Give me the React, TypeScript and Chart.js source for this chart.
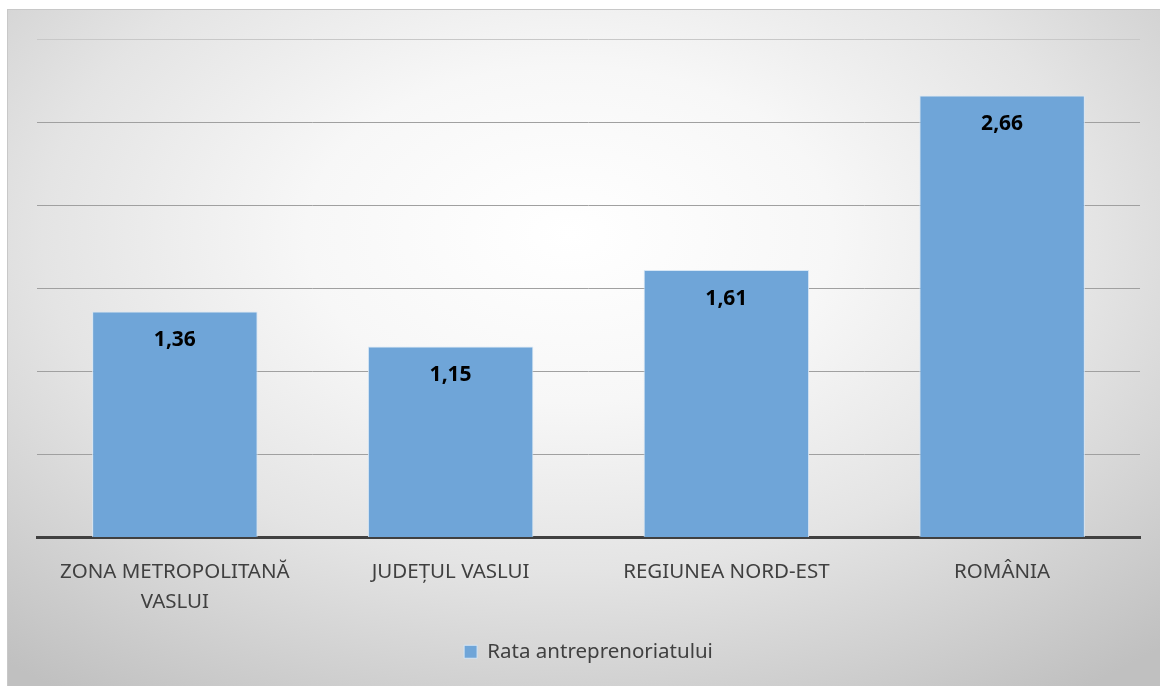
import React, { useEffect, useRef } from "react";
import { Chart, registerables } from "chart.js";

Chart.register(...registerables);

const categories: string[][] = [
  ["ZONA METROPOLITANĂ", "VASLUI"],
  ["JUDEȚUL VASLUI"],
  ["REGIUNEA NORD-EST"],
  ["ROMÂNIA"],
];
const values: number[] = [1.36, 1.15, 1.61, 2.66];
const valueLabels: string[] = ["1,36", "1,15", "1,61", "2,66"];
const seriesName = "Rata antreprenoriatului";
const yMax = 3;
const yStep = 0.5;

const FONT = "'Noto Sans', 'Open Sans', sans-serif";

const dataLabelPlugin = {
  id: "dataLabels",
  afterDatasetsDraw(chart: any) {
    const ctx = chart.ctx;
    const meta = chart.getDatasetMeta(0);
    ctx.save();
    ctx.font = `bold 21px ${FONT}`;
    ctx.fillStyle = "#000000";
    ctx.textAlign = "center";
    ctx.textBaseline = "middle";
    meta.data.forEach((bar: any, i: number) => {
      ctx.fillText(valueLabels[i], bar.x, bar.y + 29);
    });
    ctx.restore();
  },
};

export default function App() {
  const canvasRef = useRef<HTMLCanvasElement | null>(null);

  useEffect(() => {
    document.body.style.margin = "0";
    const canvas = canvasRef.current;
    if (!canvas) return;
    const chart = new Chart(canvas, {
      type: "bar",
      data: {
        labels: categories,
        datasets: [
          {
            label: seriesName,
            data: values,
            backgroundColor: "#6fa5d8",
            borderColor: "#d6e6f5",
            borderWidth: 1,
            barPercentage: 0.6,
            categoryPercentage: 1,
          },
        ],
      },
      options: {
        animation: false,
        responsive: false,
        maintainAspectRatio: false,
        layout: { padding: { left: 37, right: 20, top: 39, bottom: 14 } },
        plugins: {
          tooltip: { enabled: false },
          legend: {
            position: "bottom",
            labels: {
              color: "#404040",
              font: { family: FONT, size: 20.5 },
              boxWidth: 13,
              boxHeight: 13,
              padding: 10,
            },
          },
        },
        scales: {
          x: {
            grid: { display: false },
            border: { display: true, color: "#404040", width: 3 },
            ticks: {
              color: "#404040",
              font: { family: FONT, size: 20.5, lineHeight: 1.46 },
              padding: 12,
              maxRotation: 0,
              autoSkip: false,
            },
            afterFit(scale: any) {
              scale.height = 94;
            },
          },
          y: {
            min: 0,
            max: yMax,
            ticks: { display: false, stepSize: yStep },
            border: { display: false },
            grid: {
              color: (c: any) => (c.tick && c.tick.value === yMax ? "#c8c8c8" : "#a0a0a0"),
              lineWidth: 1,
              drawTicks: false,
            },
            afterFit(scale: any) {
              scale.width = 0;
            },
          },
        },
      },
      plugins: [dataLabelPlugin],
    });
    return () => chart.destroy();
  }, []);

  return (
    <div style={{ position: "relative", width: 1160, height: 686, overflow: "hidden", background: "#ffffff" }}>
      <div
        style={{
          position: "absolute",
          left: 7,
          top: 9,
          width: 1170,
          height: 700,
          border: "1px solid #c8c8c8",
          background:
            "radial-gradient(ellipse 75% 80% at 48% 32%, #ffffff 0%, #f7f7f7 30%, #e4e4e4 60%, #c0c0c0 100%)",
        }}
      />
      <canvas
        ref={canvasRef}
        width={1160}
        height={686}
        style={{ position: "absolute", left: 0, top: 0, width: 1160, height: 686 }}
      />
    </div>
  );
}
